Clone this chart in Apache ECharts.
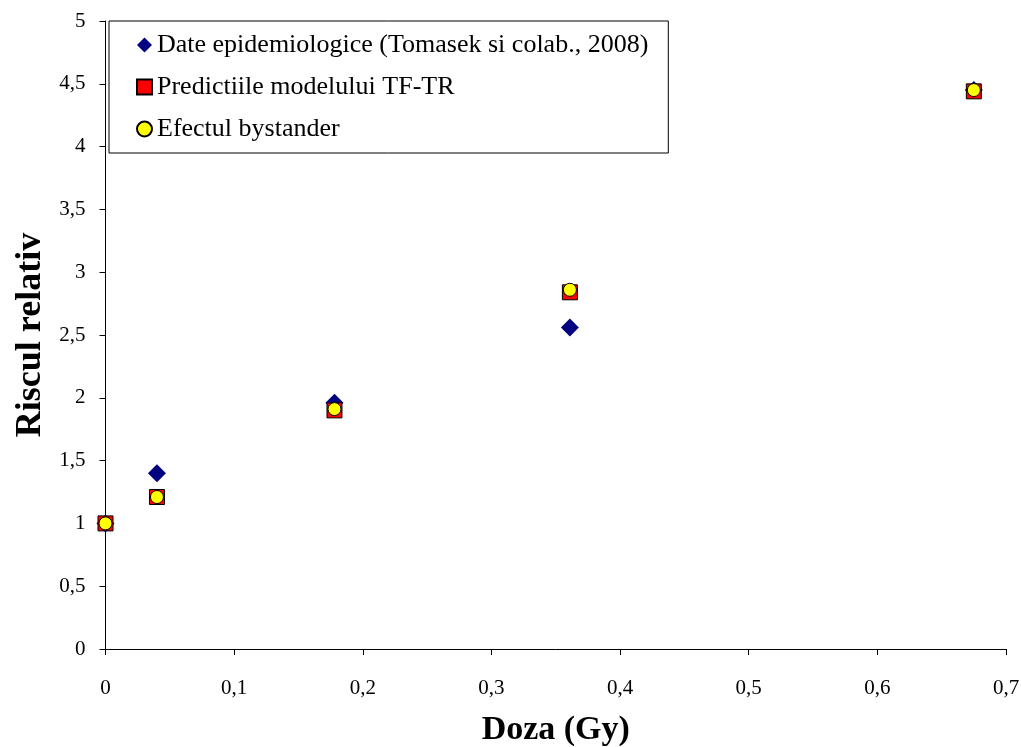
<!DOCTYPE html>
<html><head><meta charset="utf-8">
<script src="https://cdn.jsdelivr.net/npm/echarts@6/dist/echarts.min.js"></script>
<style>html,body{margin:0;padding:0;background:#fff}#c{width:1021px;height:747px}</style>
</head><body><div id="c"></div>
<script>
const seriesNames = ['Date epidemiologice (Tomasek si colab., 2008)', 'Predictiile modelului TF-TR', 'Efectul bystander'];
const doses = [0, 0.04, 0.178, 0.361, 0.675];
const epiValues = [1.0, 1.40, 1.96, 2.56, 4.45];
const tftrValues = [1.0, 1.21, 1.90, 2.84, 4.44];
const bystanderValues = [1.0, 1.21, 1.91, 2.86, 4.45];
const xTicks = [0, 0.1, 0.2, 0.3, 0.4, 0.5, 0.6, 0.7];
const yTicks = [0, 0.5, 1, 1.5, 2, 2.5, 3, 3.5, 4, 4.5, 5];

const serif = "'Liberation Serif','Times New Roman',serif";
const fmt = v => String(+v.toFixed(2)).replace('.', ',');
const pairs = vals => doses.map((d, i) => [d, vals[i]]);

const chart = echarts.init(document.getElementById('c'), null, {renderer: 'canvas'});
chart.setOption({
  backgroundColor: '#fff',
  animation: false,
  grid: {left: 105.5, right: 15, top: 21, bottom: 98, containLabel: false, outerBoundsMode: 'none'},
  xAxis: {
    type: 'value', min: xTicks[0], max: xTicks[xTicks.length - 1], interval: 0.1,
    name: 'Doza (Gy)', nameLocation: 'middle', nameGap: 64,
    nameTextStyle: {fontFamily: serif, fontSize: 34, fontWeight: 'bold', color: '#000'},
    axisLine: {show: true, lineStyle: {color: '#000', width: 1}},
    axisTick: {show: true, inside: false, length: 6, lineStyle: {color: '#000'}},
    axisLabel: {fontFamily: serif, fontSize: 21, color: '#000', margin: 29, formatter: fmt},
    splitLine: {show: false}
  },
  yAxis: {
    type: 'value', min: yTicks[0], max: yTicks[yTicks.length - 1], interval: 0.5,
    name: 'Riscul relativ', nameLocation: 'middle', nameGap: 53, nameRotate: 90,
    nameTextStyle: {fontFamily: serif, fontSize: 36, fontWeight: 'bold', color: '#000'},
    axisLine: {show: true, lineStyle: {color: '#000', width: 1}},
    axisTick: {show: true, inside: false, length: 6, lineStyle: {color: '#000'}},
    axisLabel: {fontFamily: serif, fontSize: 21, color: '#000', margin: 20, formatter: fmt},
    splitLine: {show: false}
  },
  legend: {
    orient: 'vertical', left: 109, top: 21,
    backgroundColor: '#fff', borderColor: '#000', borderWidth: 1, borderRadius: 0,
    padding: [10, 20, 10, 27],
    itemGap: 14, itemWidth: 15, itemHeight: 15,
    textStyle: {fontFamily: serif, fontSize: 26, color: '#000', lineHeight: 28},
    data: seriesNames,
    selectedMode: false
  },
  series: [
    {name: seriesNames[0], type: 'scatter', symbol: 'diamond', symbolSize: 18, z: 2,
     itemStyle: {color: '#000080', opacity: 1}, data: pairs(epiValues)},
    {name: seriesNames[1], type: 'scatter', symbol: 'rect', symbolSize: 15, z: 3,
     itemStyle: {color: '#ff0000', borderColor: '#000', borderWidth: 1, opacity: 1}, data: pairs(tftrValues)},
    {name: seriesNames[2], type: 'scatter', symbol: 'circle', symbolSize: 13, z: 4,
     itemStyle: {color: '#ffff00', borderColor: '#000', borderWidth: 1, opacity: 1}, data: pairs(bystanderValues)}
  ]
});
</script></body></html>
